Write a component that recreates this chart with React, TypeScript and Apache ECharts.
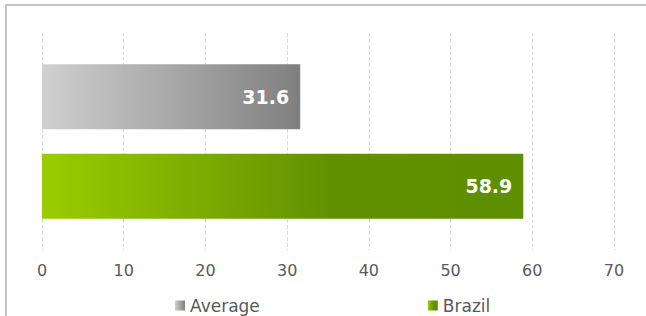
import React, { useEffect, useRef } from "react";
import * as echarts from "echarts";

const categories = ["Score"];
const seriesNames = ["Average", "Brazil"];
const averageValues = [31.6];
const brazilValues = [58.9];
const xTicks = { min: 0, max: 70, interval: 10 };

const FONT = "'DejaVu Sans', sans-serif";

export default function App() {
  const ref = useRef<HTMLDivElement>(null);
  useEffect(() => {
    if (!ref.current) return;
    const chart = echarts.init(ref.current, undefined, { renderer: "svg" });
    const grad = (stops: [number, string][]) =>
      new echarts.graphic.LinearGradient(
        0,
        0,
        1,
        0,
        stops.map(([offset, color]) => ({ offset, color }))
      );
    const label = {
      show: true,
      position: "insideRight",
      distance: 11,
      color: "#ffffff",
      fontFamily: FONT,
      fontWeight: "bold",
      fontSize: 19,
      formatter: (p: any) => Number(p.value).toFixed(1),
    };
    chart.setOption({
      animation: false,
      graphic: [
        {
          type: "rect",
          shape: { x: 6, y: 5, width: 700, height: 400 },
          style: { fill: "none", stroke: "#c4c4c4", lineWidth: 2 },
          silent: true,
        },
      ],
      grid: { left: 42, right: 32, top: 33, bottom: 66 },
      legend: {
        data: seriesNames,
        left: 175,
        top: 297,
        padding: 0,
        icon: "rect",
        itemWidth: 10,
        itemHeight: 10,
        itemGap: 168,
        textStyle: { color: "#595959", fontFamily: FONT, fontSize: 17 },
      },
      xAxis: {
        type: "value",
        min: xTicks.min,
        max: xTicks.max,
        interval: xTicks.interval,
        axisLine: { show: false },
        axisTick: { show: false },
        axisLabel: { color: "#595959", fontFamily: FONT, fontSize: 16, margin: 12 },
        splitLine: { show: true, lineStyle: { color: "#d9d9d9", type: "dashed", width: 1 } },
      },
      yAxis: {
        type: "category",
        data: categories,
        inverse: true,
        axisLine: { show: false },
        axisTick: { show: false },
        axisLabel: { show: false },
      },
      series: [
        {
          name: seriesNames[0],
          type: "bar",
          data: averageValues,
          barWidth: 65,
          barGap: "38%",
          itemStyle: { color: grad([[0, "#d0d0d0"], [1, "#7f7f7f"]]) },
          label,
        },
        {
          name: seriesNames[1],
          type: "bar",
          data: brazilValues,
          barWidth: 65,
          barGap: "38%",
          itemStyle: { color: grad([[0, "#9acd00"], [0.6, "#619100"], [1, "#5e8f00"]]) },
          label,
        },
      ],
    });
    return () => chart.dispose();
  }, []);
  return (
    <div
      ref={ref}
      style={{ position: "fixed", left: 0, top: 0, width: 646, height: 316, background: "#ffffff" }}
    />
  );
}
